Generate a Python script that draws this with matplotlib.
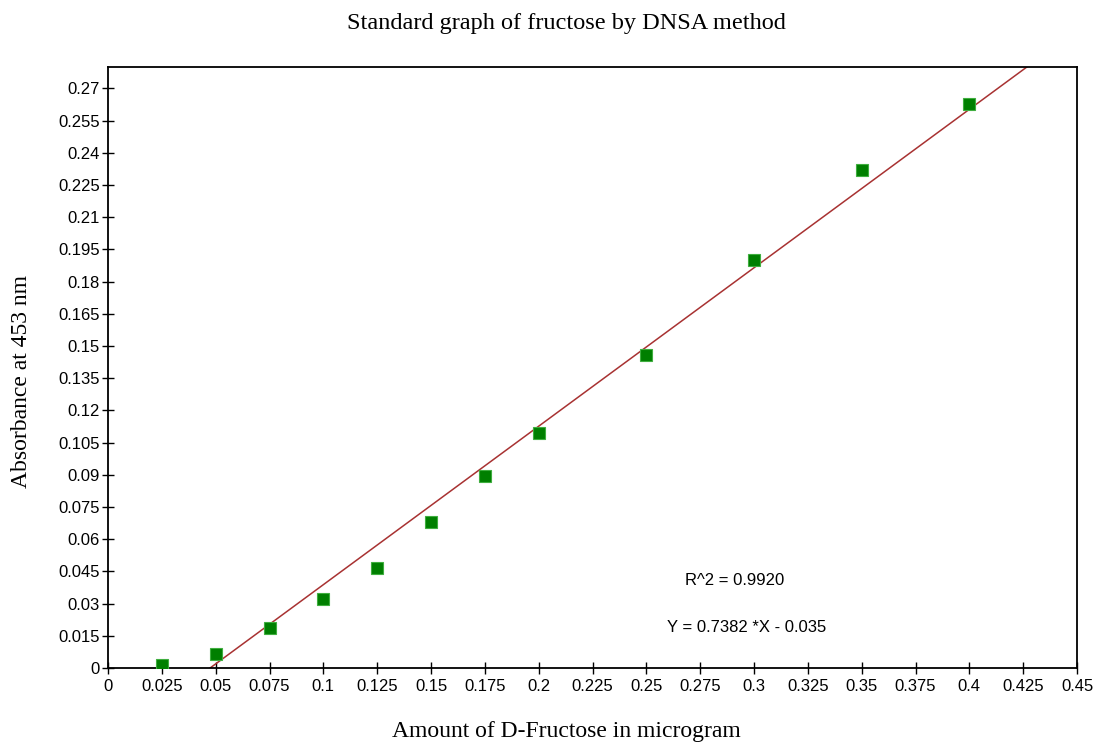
import matplotlib.pyplot as plt
import numpy as np

amount = [0.025, 0.05, 0.075, 0.1, 0.125, 0.15, 0.175, 0.2, 0.25, 0.3, 0.35, 0.4]
absorbance = [0.0014, 0.0065, 0.0187, 0.032, 0.0466, 0.068, 0.0896, 0.1096,
              0.146, 0.190, 0.2318, 0.2626]
slope = 0.7382
intercept = -0.035
x_ticks = np.arange(0, 0.4501, 0.025)
y_ticks = np.arange(0, 0.2701, 0.015)

fig = plt.figure(figsize=(10.96, 7.43), dpi=100)
ax = fig.add_axes([108 / 1096, 75 / 743, 969 / 1096, 601 / 743])

# regression line, from the x intercept up to the top of the plot
x_line = np.linspace(-intercept / slope, 0.45, 200)
ax.plot(x_line, slope * x_line + intercept, color='#a83232', lw=1.1, zorder=2)
ax.plot(amount, absorbance, 's', color='#007f00', mec='#3fae3f', mew=0.8,
        ms=8, zorder=3, linestyle='none')

ax.set_xlim(0, 0.45)
ax.set_ylim(0, 0.28)
ax.set_xticks(x_ticks)
ax.set_yticks(y_ticks)
ax.set_xticklabels(['%g' % round(v, 3) for v in x_ticks])
ax.set_yticklabels(['%g' % round(v, 3) for v in y_ticks])
ax.tick_params(direction='inout', length=8, width=1, labelsize=12)
ax.tick_params(axis='x', pad=4)
ax.tick_params(axis='y', pad=2)
for lab in ax.get_xticklabels() + ax.get_yticklabels():
    lab.set_family('Liberation Sans')
for s in ax.spines.values():
    s.set_linewidth(1.3)

ax.text(0.291, 0.0406, 'R^2 = 0.9920', ha='center', va='center',
        fontsize=12, family='Liberation Sans')
ax.text(0.2968, 0.0191, 'Y = 0.7382 *X - 0.035', ha='center', va='center',
        fontsize=12, family='Liberation Sans')

fig.text(566 / 1096, 1 - 23 / 743, 'Standard graph of fructose by DNSA method',
         ha='center', va='center', fontsize=17.5, family='Liberation Serif')
fig.text(566 / 1096, 1 - 732 / 743, 'Amount of D-Fructose in microgram',
         ha='center', va='center', fontsize=17, family='Liberation Serif')
fig.text(22 / 1096, 1 - 382 / 743, 'Absorbance at 453 nm', ha='center',
         va='center', rotation=90, fontsize=17, family='Liberation Serif')

fig.savefig('out.png', dpi=100)
